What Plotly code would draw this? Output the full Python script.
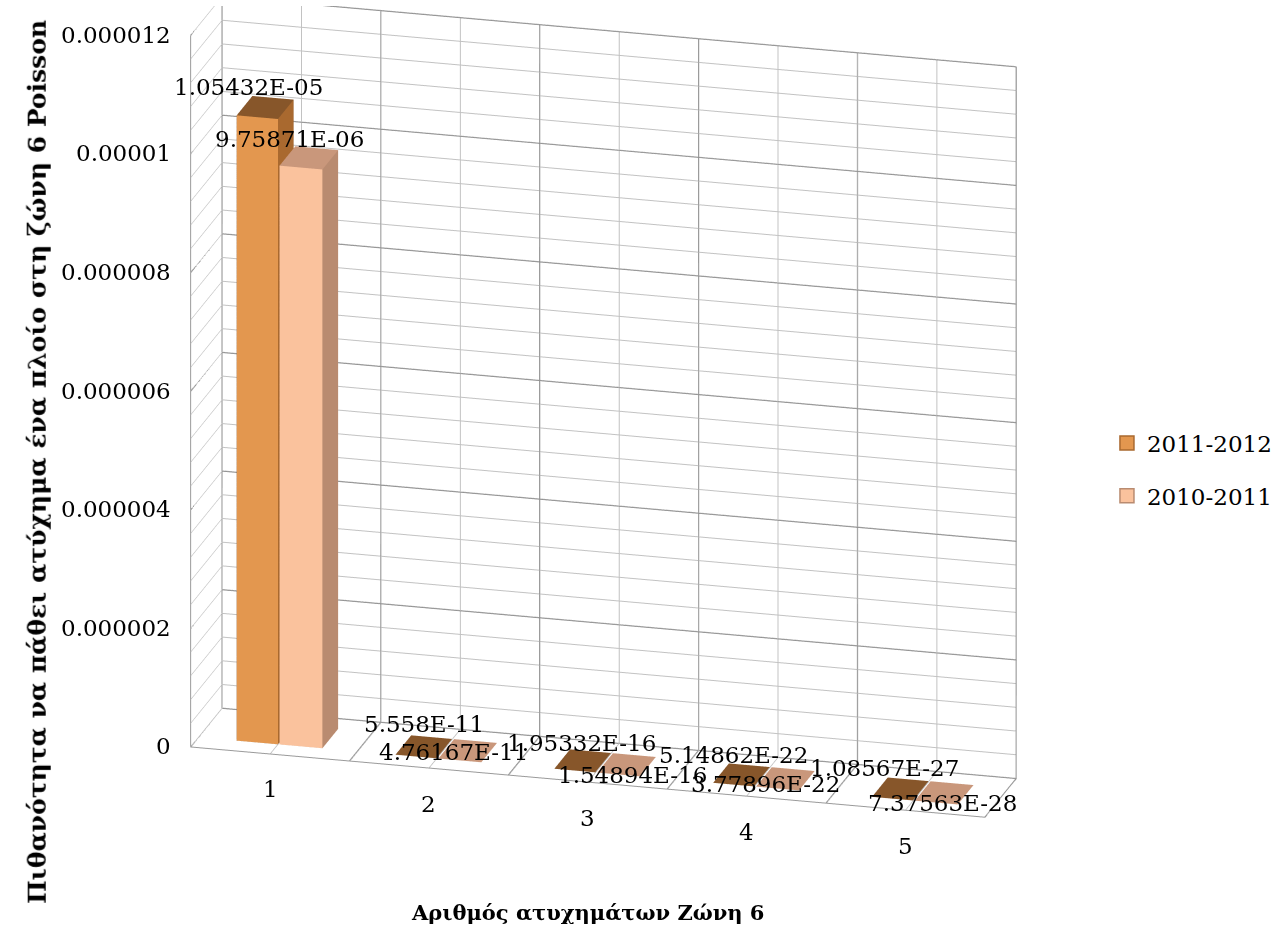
import plotly.graph_objects as go

# Poisson probabilities per number of accidents, zone 6
categories = [1, 2, 3, 4, 5]
series_names = ["2011-2012", "2010-2011"]
p_2011_2012 = [1.05432e-05, 5.558e-11, 1.95332e-16, 5.14862e-22, 1.08567e-27]
p_2010_2011 = [9.75871e-06, 4.76167e-11, 1.54894e-16, 3.77896e-22, 7.37563e-28]
label_2011_2012 = ["1.05432E-05", "5.558E-11", "1.95332E-16", "5.14862E-22", "1.08567E-27"]
label_2010_2011 = ["9.75871E-06", "4.76167E-11", "1.54894E-16", "3.77896E-22", "7.37563E-28"]

z_major = [0, 0.000002, 0.000004, 0.000006, 0.000008, 0.00001, 0.000012]
z_major_text = ["0", "0.000002", "0.000004", "0.000006", "0.000008", "0.00001", "0.000012"]

FONT = "DejaVu Serif"

# face colours: front, right side, top/hidden faces
colors = {
    "2011-2012": ("#E3974F", "#A9692F", "#87562A"),
    "2010-2011": ("#FAC29D", "#B98B70", "#C9977B"),
}
offsets = {"2011-2012": (-0.26, 0.0), "2010-2011": (0.01, 0.28)}
Y0, Y1 = 0.25, 0.75
# label placement in pixels per category: (xshift, yshift)
label_shift = {
    "2011-2012": [(-9, 30), (8, 32), (6, 27), (0, 29), (-8, 30)],
    "2010-2011": [(-12, 28), (-6, 8), (14, -1), (-12, 4), (6, -1)],
}

X_LO, X_HI = 0.5, 5.5
Z_TOP = 1.2e-5


def boxes(xs, heights, dx, cols):
    X, Y, Z, I, J, K, FC = [], [], [], [], [], [], []
    front, side, top = cols
    for xc, h in zip(xs, heights):
        x0, x1 = xc + dx[0], xc + dx[1]
        n = len(X)
        for (a, b, c) in [(x0, Y0, 0), (x1, Y0, 0), (x1, Y1, 0), (x0, Y1, 0),
                          (x0, Y0, h), (x1, Y0, h), (x1, Y1, h), (x0, Y1, h)]:
            X.append(a); Y.append(b); Z.append(c)
        faces = [
            ((0, 1, 5), front), ((0, 5, 4), front),
            ((1, 2, 6), side), ((1, 6, 5), side),
            ((4, 5, 6), top), ((4, 6, 7), top),
            ((3, 0, 4), top), ((3, 4, 7), top),
            ((2, 3, 7), top), ((2, 7, 6), top),
            ((0, 2, 1), top), ((0, 3, 2), top),
        ]
        for (a, b, c), col in faces:
            I.append(n + a); J.append(n + b); K.append(n + c); FC.append(col)
    return X, Y, Z, I, J, K, FC


fig = go.Figure()

# darker major gridlines: value majors on back and left walls,
# category boundaries on back wall and floor
gx, gy, gz = [], [], []
for m in z_major:
    gx += [X_LO, X_LO, X_HI, None]
    gy += [0, 1, 1, None]
    gz += [m, m, m, None]
for b in [X_LO + i for i in range(len(categories) + 1)]:
    gx += [b, b, b, None]
    gy += [0, 1, 1, None]
    gz += [0, 0, Z_TOP, None]
fig.add_trace(go.Scatter3d(x=gx, y=gy, z=gz, mode="lines",
                           line=dict(color="#8E8E8E", width=2.5),
                           hoverinfo="skip", showlegend=False))

for gi, (name, vals) in enumerate(zip(series_names, [p_2011_2012, p_2010_2011])):
    X, Y, Z, I, J, K, FC = boxes(categories, vals, offsets[name], colors[name])
    fig.add_trace(go.Mesh3d(
        x=X, y=Y, z=Z, i=I, j=J, k=K, facecolor=FC, flatshading=True,
        lighting=dict(ambient=1, diffuse=0, specular=0, roughness=1, fresnel=0),
        hoverinfo="skip", showlegend=False, name=name,
    ))
    # legend entry
    fig.add_trace(go.Scatter(
        x=[None], y=[None], mode="markers", name=name, legendgroup=f"g{gi}",
        marker=dict(symbol="square", size=14, color=colors[name][0],
                    line=dict(color=colors[name][1], width=1.5)),
    ))

TXT = dict(family=FONT, size=23, color="black")
annotations = []
# value labels
for name, vals, labels in [("2011-2012", p_2011_2012, label_2011_2012),
                           ("2010-2011", p_2010_2011, label_2010_2011)]:
    dx = offsets[name]
    for c, v, t, (sx, sy) in zip(categories, vals, labels, label_shift[name]):
        annotations.append(dict(
            x=c + (dx[0] + dx[1]) / 2, y=Y0, z=v, text=t, showarrow=False,
            xshift=sx, yshift=sy, font=TXT,
        ))

# value axis labels along the front-left edge
for m, t in zip(z_major, z_major_text):
    annotations.append(dict(x=X_LO, y=0, z=m, text=t, showarrow=False,
                            xanchor="right", xshift=-18,
                            font=dict(family=FONT, size=23, color="black")))
# category labels below the front edge
for c in categories:
    annotations.append(dict(x=c, y=0, z=0, text=str(c), showarrow=False,
                            yshift=-36, font=dict(family=FONT, size=23, color="black")))

z_vals = [i * 4e-7 for i in range(31)]
x_vals = [0.5 + 0.5 * i for i in range(11)]

grid = "#C2C2C2"
axis_common = dict(showbackground=False, gridcolor=grid, gridwidth=2,
                   showline=True, linecolor="#9A9A9A", linewidth=2, showticklabels=False,
                   ticks="", zeroline=False, showspikes=False, title=dict(text=""))

fig.update_layout(
    width=1277, height=926, margin=dict(l=0, r=0, t=0, b=0),
    paper_bgcolor="white", plot_bgcolor="white",
    xaxis=dict(visible=False), yaxis=dict(visible=False),
    scene=dict(
        domain=dict(x=[0.026, 0.926], y=[0.074, 0.994]),
        xaxis=dict(range=[X_LO, X_HI], tickvals=x_vals, **axis_common),
        yaxis=dict(range=[0, 1], showgrid=False,
                   **{k: v for k, v in axis_common.items() if k not in ("gridcolor", "gridwidth")}),
        zaxis=dict(range=[0, Z_TOP], tickvals=z_vals, **axis_common),
        aspectmode="manual", aspectratio=dict(x=1.93, y=0.285, z=1.77),
        camera=dict(eye=dict(x=0.488, y=-1.822, z=0.5975), center=dict(x=0, y=0, z=-0.0625),
                    up=dict(x=0, y=0, z=1), projection=dict(type="orthographic")),
        annotations=annotations,
    ),
    legend=dict(x=0.873, y=0.493, xanchor="left", yanchor="middle",
                font=dict(family=FONT, size=23, color="black"), tracegroupgap=20,
                itemwidth=30),
    showlegend=True,
    annotations=[
        dict(text="<b>Αριθμός ατυχημάτων Ζώνη 6</b>", x=0.463, y=0.0151, xref="paper", yref="paper",
             yanchor="middle", showarrow=False, font=dict(family=FONT, size=21, color="black")),
        dict(text="<b>Πιθανότητα να πάθει ατύχημα ένα πλοίο στη ζώνη 6 Poisson</b>",
             x=0.016, y=0.501, xref="paper", yref="paper", textangle=-90, showarrow=False,
             font=dict(family=FONT, size=25, color="black")),
    ],
)

fig.write_html("out.html")
